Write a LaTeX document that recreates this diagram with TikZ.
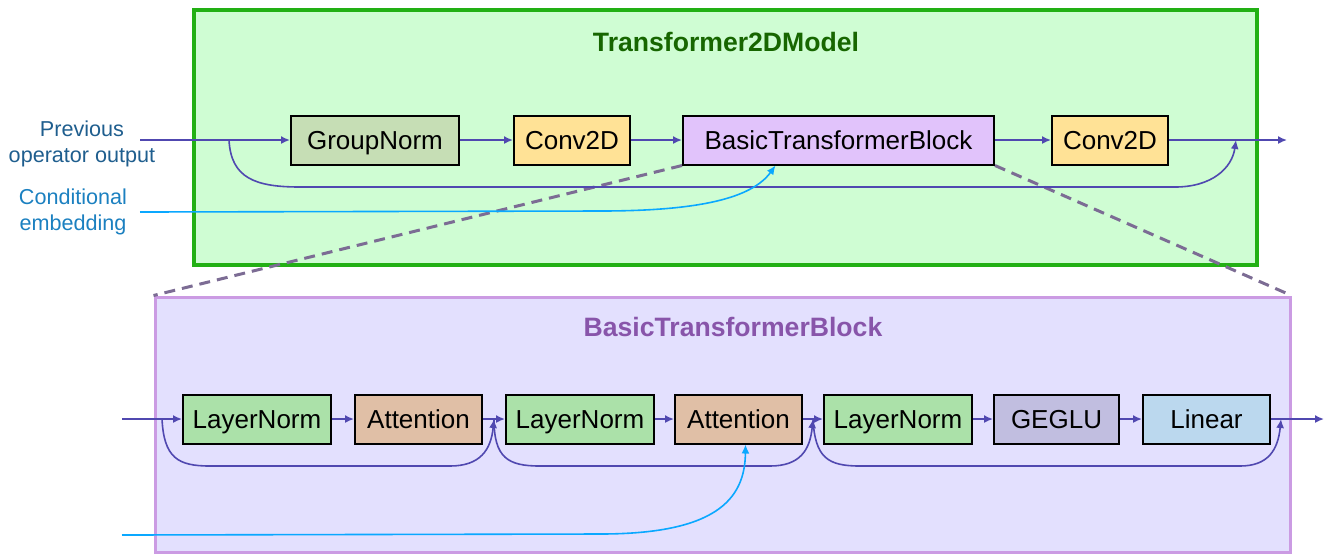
\documentclass[tikz,border=0pt]{standalone}
\usepackage{fontspec}
\setmainfont{Liberation Sans}
\usepackage{xcolor}
\usetikzlibrary{arrows.meta,positioning,calc}

\definecolor{flowblue}{RGB}{80,72,176}
\definecolor{condblue}{RGB}{10,168,255}
\definecolor{prevtext}{RGB}{31,94,142}
\definecolor{condtext}{RGB}{27,128,192}
\definecolor{modelfill}{RGB}{207,253,211}
\definecolor{modeldraw}{RGB}{34,176,20}
\definecolor{modeltitle}{RGB}{23,102,0}
\definecolor{blockfill}{RGB}{227,224,254}
\definecolor{blockdraw}{RGB}{203,155,227}
\definecolor{blocktitle}{RGB}{136,85,170}
\definecolor{zoomgray}{RGB}{124,108,148}
\definecolor{groupfill}{RGB}{198,222,181}
\definecolor{convfill}{RGB}{255,226,150}
\definecolor{btbfill}{RGB}{225,195,251}
\definecolor{normfill}{RGB}{171,225,169}
\definecolor{attnfill}{RGB}{224,191,166}
\definecolor{geglufill}{RGB}{193,190,224}
\definecolor{linearfill}{RGB}{187,216,238}

\begin{document}
\begin{tikzpicture}[
    x=0.5pt, y=-0.5pt,
    opnode/.style={rectangle, draw=black, line width=1pt, minimum height=24.5pt, inner sep=0pt,
        text height=9.3pt, text depth=0pt, font=\fontsize{13}{15}\selectfont},
    groupnode/.style={opnode, fill=groupfill, minimum width=84pt},
    convnode/.style={opnode, fill=convfill, minimum width=58pt},
    btbnode/.style={opnode, fill=btbfill, minimum width=155.5pt},
    normnode/.style={opnode, fill=normfill, minimum width=74pt},
    attnnode/.style={opnode, fill=attnfill, minimum width=63.5pt},
    gelunode/.style={opnode, fill=geglufill, minimum width=62.5pt},
    linearnode/.style={opnode, fill=linearfill, minimum width=63.5pt},
    modelframe/.style={rectangle, draw=modeldraw, fill=modelfill, line width=2pt, minimum width=531.5pt, minimum height=127.5pt},
    blockframe/.style={rectangle, draw=blockdraw, fill=blockfill, line width=1.5pt, minimum width=567.5pt, minimum height=127.5pt},
    titletext/.style={font=\fontsize{13.3}{15}\selectfont\bfseries},
    sidetext/.style={align=center, font=\fontsize{10.8}{13}\selectfont},
    flowarrow/.style={draw=flowblue, line width=0.8pt, -{Latex[length=4.5pt,width=4pt]}},
    condarrow/.style={draw=condblue, line width=0.8pt, -{Latex[length=4.5pt,width=4pt]}},
    zoomline/.style={draw=zoomgray, line width=1.5pt, dash pattern=on 5.5pt off 3.5pt},
    ]
    \useasboundingbox (0,0) rectangle (1328,554);

    %Frames
    \node[modelframe] (model) at (725.5,137.5) {};
    \node[blockframe] (basic) at (722.5,424.5) {};
    \node[titletext, text=modeltitle] (modeltitle) at (726,42) {Transformer2DModel};
    \node[titletext, text=blocktitle] (basictitle) at (733,327) {BasicTransformerBlock};

    %Nodes (model)
    \node[groupnode] (groupnorm) at (375,140)                {GroupNorm};
    \node[convnode]  (conv1)     [right=26.5pt of groupnorm] {Conv2D};
    \node[btbnode]   (block)     [right=25.5pt of conv1]     {BasicTransformerBlock};
    \node[convnode]  (conv2)     [right=28pt of block]       {Conv2D};

    %Nodes (block)
    \node[normnode]   (norm1)  at (257,419)             {LayerNorm};
    \node[attnnode]   (attn1)  [right=11pt of norm1]    {Attention};
    \node[normnode]   (norm2)  [right=11pt of attn1]    {LayerNorm};
    \node[attnnode]   (attn2)  [right=9.5pt of norm2]   {Attention};
    \node[normnode]   (norm3)  [right=10pt of attn2]    {LayerNorm};
    \node[gelunode]   (geglu)  [right=10pt of norm3]    {GEGLU};
    \node[linearnode] (linear) [right=11pt of geglu]    {Linear};

    % Text labels (outside nodes)
    \node[sidetext, text=prevtext] (prevlabel) at (82,144) {Previous\\operator output};
    \node[sidetext, text=condtext] (condlabel) at (73,212) {Conditional\\embedding};

    %Coordinates
    \coordinate (in1)    at (140,140);
    \coordinate (split1) at (229,140);
    \coordinate (join1)  at (1236,140);
    \coordinate (out1)   at (1287,140);
    \coordinate (cond1)  at (140,212);
    \coordinate (in2)    at (122,419);
    \coordinate (split2) at (162,419);
    \coordinate (join2)  at ($(attn1.east)!0.5!(norm2.west)$);
    \coordinate (join3)  at ($(attn2.east)!0.5!(norm3.west)$);
    \coordinate (join4)  at ([xshift=5pt]linear.east);
    \coordinate (out2)   at (1324,419);
    \coordinate (cond2)  at (122,535);

    %Zoom lines
    \draw[zoomline] (block.south west) -- (basic.north west);
    \draw[zoomline] (block.south east) -- (basic.north east);

    %Lines (model)
    \draw[flowarrow] (in1)       -- (groupnorm.west);
    \draw[flowarrow] (groupnorm) -- (conv1);
    \draw[flowarrow] (conv1)     -- (block);
    \draw[flowarrow] (block)     -- (conv2);
    \draw[flowarrow] (conv2)     -- (out1);
    \draw[flowarrow] (split1) .. controls (231,178) and (255,187) .. (300,187)
        -- (1175,187) .. controls (1212,187) and (1232,168) .. (join1);
    \draw[condarrow] (cond1) -- (600,211) .. controls (700,211) and (752,198) .. ([xshift=-31.5pt]block.south);

    %Lines (block)
    \draw[flowarrow] (in2)   -- (norm1.west);
    \draw[flowarrow] (norm1) -- (attn1);
    \draw[flowarrow] (attn1) -- (norm2);
    \draw[flowarrow] (norm2) -- (attn2);
    \draw[flowarrow] (attn2) -- (norm3);
    \draw[flowarrow] (norm3) -- (geglu);
    \draw[flowarrow] (geglu) -- (linear);
    \draw[flowarrow] (linear) -- (out2);
    \draw[flowarrow] (split2) .. controls (164,458) and (178,466) .. (210,466)
        -- (450,466) .. controls (480,466) and (491,450) .. (join2);
    \draw[flowarrow] (join2) .. controls (494,458) and (508,466) .. (540,466)
        -- (770,466) .. controls (800,466) and (810,450) .. (join3);
    \draw[flowarrow] (join3) .. controls (815,458) and (828,466) .. (860,466)
        -- (1240,466) .. controls (1268,466) and (1278,450) .. (join4);
    \draw[condarrow] (cond2) -- (600,534) .. controls (715,534) and (745,500) .. ([xshift=3.5pt]attn2.south);
\end{tikzpicture}
\end{document}
